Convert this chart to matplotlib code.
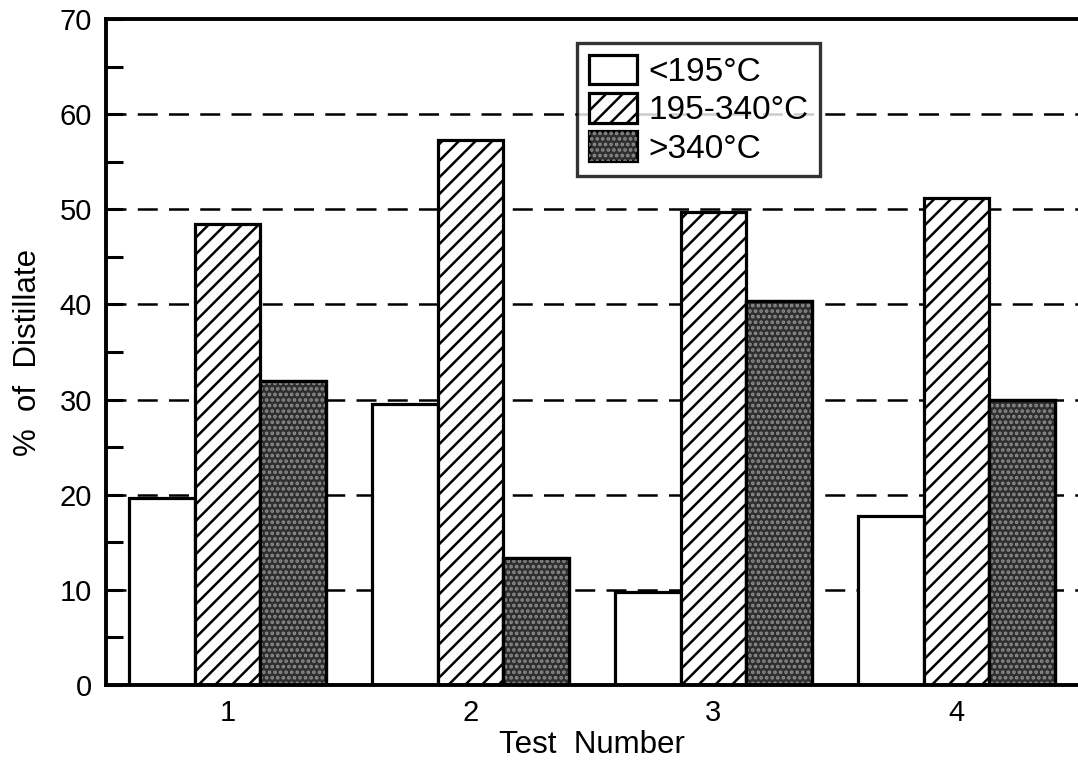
import matplotlib
matplotlib.use("Agg")
import matplotlib.pyplot as plt
import numpy as np

plt.rcParams['font.family'] = ['Liberation Sans', 'DejaVu Sans']
plt.rcParams['hatch.linewidth'] = 1.8

tests = [1, 2, 3, 4]
series_labels = ['<195°C', '195-340°C', '>340°C']
low_boiling = [19.7, 29.5, 9.8, 17.8]
mid_boiling = [48.5, 57.3, 49.7, 51.2]
high_boiling = [32.0, 13.3, 40.4, 30.0]
y_ticks = [0, 10, 20, 30, 40, 50, 60, 70]

fig = plt.figure(figsize=(10.78, 7.67), dpi=100)
ax = fig.add_axes([0.0983, 0.1069, 0.9017, 0.8683])

x = np.array(tests, dtype=float)
w = 0.27

# dashed reference lines behind the bars
for v in y_ticks[1:-1]:
    ax.axhline(v, color='black', lw=1.8, ls=(0, (8, 4.5)), zorder=0)

b1 = ax.bar(x - w, low_boiling, w, facecolor='white', edgecolor='black', lw=2.3, zorder=2)
b2 = ax.bar(x, mid_boiling, w, facecolor='white', edgecolor='black', lw=2.3, hatch='//', zorder=2)
b3 = ax.bar(x + w, high_boiling, w, facecolor='#2f2f2f', edgecolor='black', lw=2.3, zorder=2)
# speckled texture over the dark bars
b3t = ax.bar(x + w, high_boiling, w, facecolor='none', edgecolor='#8e8e8e', lw=0, hatch='...', zorder=2.5)
ax.bar(x + w, high_boiling, w, facecolor='none', edgecolor='black', lw=2.3, zorder=3)

ax.set_xlim(0.5, 4.5)
ax.set_ylim(0, 70)
ax.set_xticks(x)
ax.set_xticklabels([str(t) for t in tests])
ax.set_yticks(y_ticks)
ax.set_yticks(np.arange(5, 70, 10), minor=True)
ax.tick_params(axis='y', which='both', direction='in', length=12, width=2.2, labelsize=21, pad=10)
ax.tick_params(axis='x', length=0, labelsize=21, pad=10)

for s in ['left', 'bottom', 'top']:
    ax.spines[s].set_linewidth(2.8)
ax.spines['right'].set_visible(False)

ax.set_xlabel('Test  Number', fontsize=22.5, labelpad=2)
ax.set_ylabel('%  of  Distillate', fontsize=22.5, labelpad=12)

leg = ax.legend([b1[0], b2[0], (b3[0], b3t[0])], series_labels,
                loc='upper left', bbox_to_anchor=(0.4846, 0.964),
                fontsize=24, frameon=True, fancybox=False, edgecolor='black',
                handlelength=1.45, handleheight=1.0, handletextpad=0.33,
                labelspacing=0.15, borderpad=0.35, borderaxespad=0.0)
leg.get_frame().set_linewidth(2.4)
for h in leg.legend_handles:
    if hasattr(h, 'set_linewidth'):
        h.set_linewidth(2.3)
leg.set_zorder(5)

fig.savefig('out.png', dpi=100, facecolor='white')
